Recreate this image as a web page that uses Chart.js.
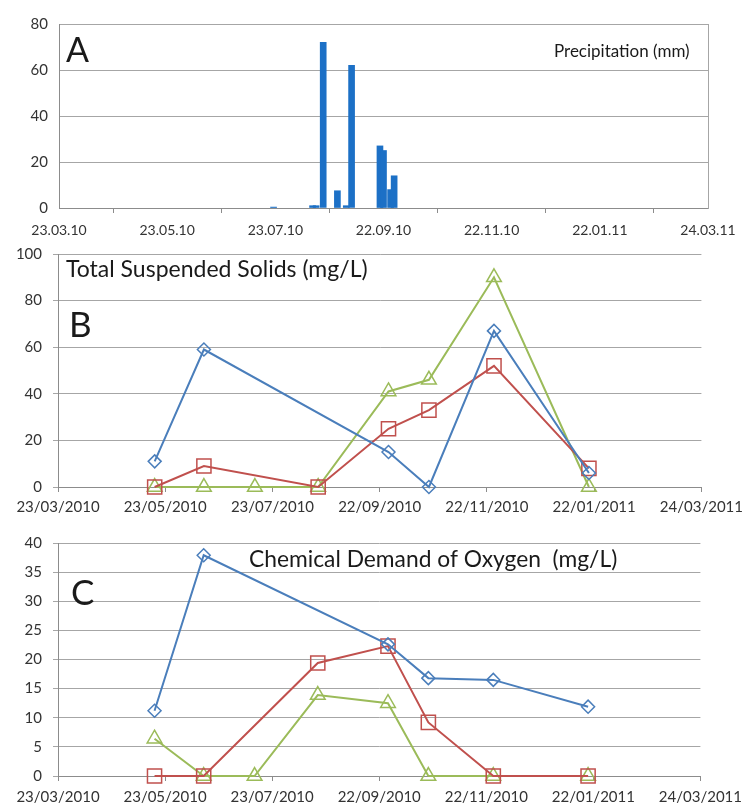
<!DOCTYPE html>
<html>
<head>
<meta charset="utf-8">
<title>Precipitation, TSS and COD 2010-2011</title>
<script src="https://cdn.jsdelivr.net/npm/chart.js@4.4.0/dist/chart.umd.min.js"></script>
<style>
  body { margin: 0; background: #fff; }
  #wrap { position: relative; width: 749px; height: 805px; }
  canvas { position: absolute; left: 0; }
</style>
</head>
<body>
<div id="wrap">
  <canvas id="chartA" width="749" height="240" style="top:0px"></canvas>
  <canvas id="chartB" width="749" height="289" style="top:230px"></canvas>
  <canvas id="chartC" width="749" height="286" style="top:519px"></canvas>
</div>
<script>
'use strict';

// axis ticks (every 61 days from 23/03/2010)
let tickDates = ['2010-03-23', '2010-05-23', '2010-07-23', '2010-09-22', '2010-11-22', '2011-01-22', '2011-03-24'];
let tickLabelsA = ['23.03.10', '23.05.10', '23.07.10', '22.09.10', '22.11.10', '22.01.11', '24.03.11'];
let tickLabelsBC = ['23/03/2010', '23/05/2010', '23/07/2010', '22/09/2010', '22/11/2010', '22/01/2011', '24/03/2011'];

// panel A - daily precipitation (mm)
let rainDates = ['2010-07-22', '2010-08-13', '2010-08-15', '2010-08-19', '2010-08-27', '2010-09-01', '2010-09-04', '2010-09-20', '2010-09-22', '2010-09-26', '2010-09-28'];
let rainValues = [0.4, 1, 1, 72, 7.5, 1, 62, 27, 25, 8, 14];

// sampling campaigns
let sampleDates = ['2010-05-17', '2010-06-14', '2010-07-13', '2010-08-18', '2010-09-27', '2010-10-20', '2010-11-26', '2011-01-19'];

// panel B - total suspended solids (mg/L), null = not sampled
let tssBlue = [11, 59, null, null, 15, 0, 67, 6];
let tssRed = [0, 9, null, 0, 25, 33, 52, 8];
let tssGreen = [0, 0, 0, 0, 41, 46, 90, 0];

// panel C - chemical demand of oxygen (mg/L)
let codBlue = [11.2, 37.9, null, null, 22.6, 16.8, 16.5, 11.9];
let codRed = [0, 0, null, 19.4, 22.3, 9.2, 0, 0];
let codGreen = [6.4, 0, 0, 13.9, 12.5, 0, 0, 0];

let fontFamily = 'Lato, "Open Sans", sans-serif';
let startDay = Date.UTC(2010, 2, 23);

// days since 23/03/2010
function dayOf(s) {
    let p = s.split('-');
    return Math.round((Date.UTC(+p[0], +p[1] - 1, +p[2]) - startDay) / 86400000);
}

function toPoints(dates, values) {
    return dates.map(function (d, i) {
        return { x: dayOf(d), y: values[i] };
    });
}

let tickDays = tickDates.map(dayOf);

// draws the panel letters and titles
let panelText = {
    id: 'panelText',
    afterDraw(chart, args, opts) {
        let ctx = chart.ctx;
        ctx.save();
        ctx.fillStyle = '#1a1a1a';
        ctx.textBaseline = 'alphabetic';
        ctx.textAlign = 'left';
        opts.items.forEach(function (t) {
            ctx.font = t.size + 'px ' + fontFamily;
            ctx.fillText(t.text, t.x, t.y);
        });
        ctx.restore();
    }
};

function xScale(labels, fontSize, pad, height) {
    return {
        type: 'linear',
        min: 0,
        max: 366,
        offset: false,
        afterBuildTicks: function (scale) {
            scale.ticks = tickDays.map(function (v) { return { value: v }; });
        },
        afterFit: function (scale) { scale.height = height; },
        ticks: {
            autoSkip: false,
            maxRotation: 0,
            padding: pad,
            color: '#333',
            font: { family: fontFamily, size: fontSize },
            callback: function (value, index) { return labels[index]; }
        },
        grid: { drawOnChartArea: false, drawTicks: true, tickLength: 5, color: '#8c8c8c' },
        border: { color: '#8c8c8c', width: 1 }
    };
}

function yScale(max, step, width, ticksOut) {
    return {
        min: 0,
        max: max,
        afterFit: function (scale) { scale.width = width; },
        ticks: {
            stepSize: step,
            padding: 11,
            color: '#333',
            font: { family: fontFamily, size: 15 }
        },
        grid: { color: '#a6a6a6', lineWidth: 1, drawTicks: ticksOut, tickLength: 5 },
        border: { color: '#8c8c8c', width: 1 }
    };
}

function lineSet(dates, values, color, style, radius) {
    return {
        data: toPoints(dates, values),
        borderColor: color,
        borderWidth: 2,
        pointStyle: style,
        pointRadius: radius,
        pointBorderColor: color,
        pointBorderWidth: 1.5,
        pointBackgroundColor: 'rgba(0,0,0,0)',
        spanGaps: true,
        tension: 0,
        clip: false
    };
}

let blue = '#4a7ebb';
let red = '#c0504d';
let green = '#9bbb59';

// A - precipitation bars
new Chart(document.getElementById('chartA').getContext('2d'), {
    type: 'bar',
    data: {
        datasets: [{
            data: toPoints(rainDates, rainValues),
            backgroundColor: '#1c70c6',
            barThickness: 6
        }]
    },
    options: {
        responsive: false,
        animation: false,
        layout: { padding: { top: 24, right: 41, left: 0, bottom: 0 } },
        plugins: {
            legend: { display: false },
            tooltip: { enabled: false },
            panelText: {
                items: [
                    { text: 'A', x: 66, y: 62, size: 34 },
                    { text: 'Precipitation (mm)', x: 554, y: 57, size: 17 }
                ]
            }
        },
        scales: {
            x: xScale(tickLabelsA, 14, 9, 32),
            y: yScale(80, 20, 59, false),
            yr: {
                position: 'right',
                display: true,
                afterFit: function (scale) { scale.width = 0; },
                ticks: { display: false },
                grid: { display: false },
                border: { color: '#a6a6a6', width: 1 }
            }
        }
    },
    plugins: [panelText]
});

// B - total suspended solids
new Chart(document.getElementById('chartB').getContext('2d'), {
    type: 'line',
    data: {
        datasets: [
            lineSet(sampleDates, tssBlue, blue, 'rectRot', 6.5),
            lineSet(sampleDates, tssRed, red, 'rect', 10),
            lineSet(sampleDates, tssGreen, green, 'triangle', 8.5)
        ]
    },
    options: {
        responsive: false,
        animation: false,
        layout: { padding: { top: 24, right: 42, left: 0, bottom: 0 } },
        plugins: {
            legend: { display: false },
            tooltip: { enabled: false },
            panelText: {
                items: [
                    { text: 'Total Suspended Solids (mg/L)', x: 66, y: 47, size: 23 },
                    { text: 'B', x: 69, y: 107, size: 35 }
                ]
            }
        },
        scales: {
            x: xScale(tickLabelsBC, 15, 6, 32),
            y: yScale(100, 20, 58, true)
        }
    },
    plugins: [panelText]
});

// C - chemical demand of oxygen
new Chart(document.getElementById('chartC').getContext('2d'), {
    type: 'line',
    data: {
        datasets: [
            lineSet(sampleDates, codBlue, blue, 'rectRot', 6.5),
            lineSet(sampleDates, codRed, red, 'rect', 10),
            lineSet(sampleDates, codGreen, green, 'triangle', 8.5)
        ]
    },
    options: {
        responsive: false,
        animation: false,
        layout: { padding: { top: 24, right: 41, left: 0, bottom: 0 } },
        plugins: {
            legend: { display: false },
            tooltip: { enabled: false },
            panelText: {
                items: [
                    { text: 'Chemical Demand of Oxygen  (mg/L)', x: 249, y: 48, size: 22.8 },
                    { text: 'C', x: 71, y: 86, size: 35 }
                ]
            }
        },
        scales: {
            x: xScale(tickLabelsBC, 15, 7, 29),
            y: yScale(40, 5, 58, true)
        }
    },
    plugins: [panelText]
});
</script>
</body>
</html>
